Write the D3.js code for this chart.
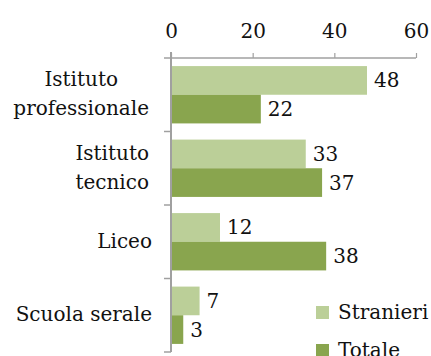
<!DOCTYPE html>
<html>
<head>
<meta charset="utf-8">
<script src="https://cdn.jsdelivr.net/npm/d3@7"></script>
<style>
  html, body { margin: 0; padding: 0; background: #fff; }
  svg { display: block; font-family: "DejaVu Serif", serif; }
</style>
</head>
<body>
<svg id="chart" width="431" height="356"></svg>
<script>
// Tipo di scuola frequentata (%)
const categories = [
  ["Istituto", "professionale"],
  ["Istituto", "tecnico"],
  ["Liceo"],
  ["Scuola serale"]
];
const seriesNames = ["Stranieri", "Totale"];
const stranieri = [48, 33, 12, 7];
const totale = [22, 37, 38, 3];
const xTicks = [0, 20, 40, 60];

const colors = { Stranieri: "#bbcf98", Totale: "#89a54e" };
const axisColor = "#a0a0a0";

const svg = d3.select("#chart");
const keys = categories.map(c => c.join(" "));

const x = d3.scaleLinear().domain([0, 60]).range([171, 416]);
const y = d3.scaleBand().domain(keys).range([58, 352])
  .paddingInner(0.22).paddingOuter(0.11);
const ySub = d3.scaleBand().domain(seriesNames).range([0, y.bandwidth()]);

const rows = keys.map((k, i) => ({ key: k, lines: categories[i], Stranieri: stranieri[i], Totale: totale[i] }));

// bars
const groups = svg.append("g").selectAll("g").data(rows).join("g")
  .attr("transform", d => `translate(0,${y(d.key)})`);

groups.selectAll("rect").data(d => seriesNames.map(s => ({ s, v: d[s] })))
  .join("rect")
  .attr("x", x(0) + 1)
  .attr("y", d => ySub(d.s))
  .attr("width", d => x(d.v) - x(0) - 1)
  .attr("height", ySub.bandwidth())
  .attr("fill", d => colors[d.s]);

// value labels
groups.selectAll("text.val").data(d => seriesNames.map(s => ({ s, v: d[s] })))
  .join("text")
  .attr("class", "val")
  .attr("x", d => x(d.v) + 7)
  .attr("y", d => ySub(d.s) + ySub.bandwidth() / 2 + 7)
  .attr("font-size", 20)
  .attr("fill", "#111")
  .text(d => d.v);

// top axis
const xAxis = d3.axisTop(x).tickValues(xTicks).tickSize(5).tickPadding(8).tickFormat(d3.format("d"));
const gx = svg.append("g").attr("transform", "translate(0,58)").call(xAxis);
gx.select(".domain").remove();
gx.selectAll(".tick line").attr("stroke", axisColor).attr("stroke-width", 1.2);
gx.selectAll(".tick text").attr("font-size", 20).attr("font-family", "DejaVu Serif, serif").attr("fill", "#111")
  .attr("dy", -7);
gx.append("line").attr("x1", 164).attr("x2", x(60)).attr("y1", 0).attr("y2", 0)
  .attr("stroke", axisColor).attr("stroke-width", 1.5);

// left axis with ticks at category boundaries
const boundaries = [58].concat(keys.map(k => y(k) - y.step() * y.paddingInner() / 2 + y.step()));
const ga = svg.append("g");
ga.append("line").attr("x1", 171).attr("x2", 171).attr("y1", 52).attr("y2", 352)
  .attr("stroke", axisColor).attr("stroke-width", 2);
ga.selectAll("line.tk").data(boundaries.slice(1)).join("line").attr("class", "tk")
  .attr("x1", 164).attr("x2", 171).attr("y1", d => d).attr("y2", d => d)
  .attr("stroke", axisColor).attr("stroke-width", 1.5);

// category labels
const labelRight = 152;
rows.forEach(r => {
  const c = y(r.key) + y.bandwidth() / 2;
  const g = svg.append("g");
  if (r.lines.length === 1) {
    g.append("text").attr("x", labelRight).attr("y", c + 6)
      .attr("text-anchor", "end").attr("font-size", 20).attr("fill", "#111").text(r.lines[0]);
  } else {
    const t = r.lines.map((l, i) => g.append("text").attr("y", c + 6 + (i - 0.5) * 29)
      .attr("text-anchor", "middle").attr("font-size", 20).attr("fill", "#111").text(l));
    const w = d3.max(t, n => n.node().getComputedTextLength());
    t.forEach(n => n.attr("x", labelRight - 3 - w / 2));
  }
});

// legend
const legend = svg.append("g").selectAll("g").data(seriesNames).join("g")
  .attr("transform", (d, i) => `translate(316,${306 + i * 38})`);
legend.append("rect").attr("width", 13).attr("height", 13).attr("fill", d => colors[d]);
legend.append("text").attr("x", 22).attr("y", 13).attr("font-size", 20).attr("fill", "#111").text(d => d);
</script>
</body>
</html>
